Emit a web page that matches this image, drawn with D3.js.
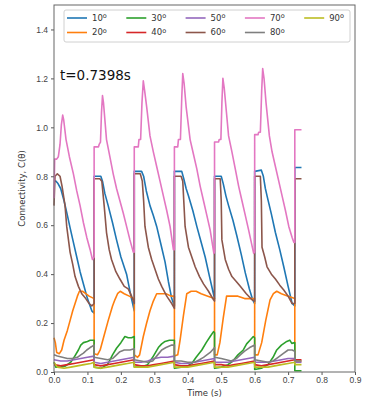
<!DOCTYPE html>
<html>
<head>
<meta charset="utf-8">
<script src="https://cdn.jsdelivr.net/npm/d3@7"></script>
<style>
  body { margin: 0; background: #fff; }
  svg { display: block; font-family: "DejaVu Sans", sans-serif; }
</style>
</head>
<body>
<svg id="chart" width="366" height="399"></svg>
<script>
// values, [time (s), connectivity]
const deg10 = [
    [0, 0.78], [0.006, 0.78], [0.012, 0.77], [0.02, 0.75], [0.03, 0.70], [0.04, 0.64], [0.048, 0.59], [0.058, 0.53], [0.068, 0.47], [0.078, 0.41], [0.088, 0.36], [0.1, 0.30], [0.113, 0.25], [0.12, 0.24],
    [0.12, 0.80], [0.14, 0.80], [0.145, 0.78], [0.152, 0.73], [0.162, 0.68], [0.175, 0.61], [0.187, 0.54], [0.2, 0.47], [0.217, 0.40], [0.23, 0.31], [0.24, 0.25],
    [0.24, 0.82], [0.262, 0.82], [0.268, 0.80], [0.276, 0.74], [0.287, 0.68], [0.297, 0.64], [0.307, 0.595], [0.32, 0.52], [0.332, 0.45], [0.342, 0.37], [0.352, 0.30], [0.36, 0.27],
    [0.36, 0.82], [0.382, 0.82], [0.388, 0.79], [0.395, 0.75], [0.402, 0.72], [0.415, 0.66], [0.427, 0.595], [0.44, 0.53], [0.452, 0.47], [0.465, 0.39], [0.475, 0.33], [0.48, 0.30],
    [0.48, 0.80], [0.5, 0.80], [0.506, 0.77], [0.514, 0.72], [0.522, 0.68], [0.535, 0.62], [0.547, 0.555], [0.56, 0.48], [0.572, 0.405], [0.584, 0.34], [0.594, 0.295], [0.6, 0.28],
    [0.6, 0.82], [0.62, 0.825], [0.626, 0.80], [0.632, 0.75], [0.637, 0.72], [0.65, 0.645], [0.662, 0.57], [0.675, 0.50], [0.687, 0.43], [0.7, 0.35], [0.712, 0.28], [0.72, 0.27],
    [0.72, 0.836], [0.74, 0.836]
];
const deg20 = [
    [0, 0.14], [0.004, 0.12], [0.008, 0.08], [0.016, 0.075], [0.023, 0.09], [0.03, 0.13], [0.04, 0.17], [0.048, 0.21], [0.056, 0.25], [0.063, 0.28], [0.07, 0.31], [0.076, 0.33], [0.085, 0.33], [0.095, 0.32], [0.105, 0.31], [0.12, 0.30],
    [0.12, 0.075], [0.13, 0.07], [0.138, 0.09], [0.15, 0.15], [0.162, 0.21], [0.175, 0.27], [0.182, 0.295], [0.19, 0.32], [0.198, 0.33], [0.21, 0.32], [0.225, 0.31], [0.24, 0.30],
    [0.24, 0.07], [0.25, 0.06], [0.256, 0.07], [0.267, 0.145], [0.277, 0.20], [0.287, 0.25], [0.297, 0.29], [0.307, 0.32], [0.32, 0.32], [0.335, 0.32], [0.35, 0.31], [0.36, 0.31],
    [0.36, 0.065], [0.37, 0.07], [0.377, 0.13], [0.387, 0.23], [0.397, 0.32], [0.41, 0.33], [0.425, 0.33], [0.44, 0.32], [0.46, 0.31], [0.48, 0.30],
    [0.48, 0.07], [0.488, 0.07], [0.496, 0.12], [0.506, 0.22], [0.516, 0.31], [0.53, 0.31], [0.55, 0.31], [0.57, 0.30], [0.59, 0.30], [0.6, 0.30],
    [0.6, 0.07], [0.61, 0.07], [0.621, 0.12], [0.633, 0.21], [0.646, 0.295], [0.656, 0.32], [0.666, 0.33], [0.68, 0.32], [0.7, 0.31], [0.72, 0.30],
    [0.72, 0.045], [0.74, 0.045]
];
const deg30 = [
    [0, 0.04], [0.005, 0.02], [0.02, 0.02], [0.035, 0.025], [0.05, 0.04], [0.06, 0.06], [0.073, 0.09], [0.08, 0.11], [0.088, 0.12], [0.1, 0.125], [0.108, 0.13], [0.12, 0.13],
    [0.12, 0.02], [0.14, 0.015], [0.16, 0.03], [0.175, 0.07], [0.187, 0.097], [0.2, 0.12], [0.212, 0.145], [0.222, 0.14], [0.232, 0.14], [0.24, 0.145],
    [0.24, 0.02], [0.26, 0.02], [0.28, 0.03], [0.295, 0.06], [0.312, 0.10], [0.322, 0.115], [0.332, 0.125], [0.345, 0.13], [0.352, 0.13], [0.36, 0.13],
    [0.36, 0.015], [0.38, 0.02], [0.4, 0.025], [0.412, 0.035], [0.425, 0.06], [0.442, 0.09], [0.455, 0.12], [0.467, 0.145], [0.477, 0.165], [0.48, 0.16],
    [0.48, 0.015], [0.5, 0.02], [0.52, 0.03], [0.535, 0.045], [0.55, 0.07], [0.566, 0.09], [0.576, 0.115], [0.586, 0.13], [0.596, 0.145], [0.6, 0.14],
    [0.6, 0.01], [0.62, 0.015], [0.64, 0.03], [0.655, 0.06], [0.666, 0.09], [0.68, 0.11], [0.696, 0.125], [0.705, 0.13], [0.711, 0.117], [0.72, 0.12],
    [0.72, 0.005], [0.74, 0.005]
];
const deg40 = [
    [0, 0.03], [0.02, 0.025], [0.04, 0.03], [0.06, 0.035], [0.08, 0.04], [0.1, 0.045], [0.12, 0.05],
    [0.12, 0.03], [0.14, 0.025], [0.16, 0.03], [0.18, 0.035], [0.2, 0.04], [0.22, 0.045], [0.24, 0.05],
    [0.24, 0.03], [0.26, 0.025], [0.28, 0.025], [0.3, 0.03], [0.32, 0.035], [0.34, 0.04], [0.36, 0.045],
    [0.36, 0.03], [0.38, 0.025], [0.4, 0.025], [0.42, 0.03], [0.44, 0.035], [0.46, 0.04], [0.48, 0.045],
    [0.48, 0.03], [0.5, 0.03], [0.52, 0.025], [0.54, 0.03], [0.56, 0.035], [0.58, 0.04], [0.6, 0.045],
    [0.6, 0.03], [0.62, 0.025], [0.64, 0.03], [0.66, 0.035], [0.68, 0.04], [0.7, 0.045], [0.72, 0.05],
    [0.72, 0.05], [0.74, 0.05]
];
const deg50 = [
    [0, 0.05], [0.02, 0.045], [0.04, 0.045], [0.06, 0.05], [0.08, 0.055], [0.1, 0.06], [0.12, 0.065],
    [0.12, 0.04], [0.14, 0.035], [0.16, 0.04], [0.18, 0.045], [0.2, 0.05], [0.22, 0.055], [0.24, 0.06],
    [0.24, 0.04], [0.26, 0.04], [0.28, 0.045], [0.3, 0.055], [0.32, 0.06], [0.34, 0.06], [0.36, 0.065],
    [0.36, 0.04], [0.38, 0.035], [0.4, 0.035], [0.42, 0.04], [0.44, 0.045], [0.46, 0.05], [0.48, 0.055],
    [0.48, 0.04], [0.5, 0.04], [0.52, 0.04], [0.54, 0.045], [0.56, 0.05], [0.58, 0.055], [0.6, 0.06],
    [0.6, 0.04], [0.62, 0.04], [0.64, 0.04], [0.66, 0.045], [0.68, 0.05], [0.7, 0.055], [0.72, 0.055],
    [0.72, 0.04], [0.74, 0.04]
];
const deg60 = [
    [0, 0.68], [0.003, 0.80], [0.01, 0.81], [0.018, 0.80], [0.024, 0.76], [0.033, 0.68], [0.038, 0.595], [0.048, 0.49], [0.056, 0.44], [0.063, 0.39], [0.073, 0.35], [0.083, 0.32], [0.095, 0.30], [0.105, 0.28], [0.113, 0.27], [0.12, 0.28],
    [0.12, 0.79], [0.137, 0.79], [0.143, 0.78], [0.15, 0.68], [0.157, 0.57], [0.165, 0.50], [0.172, 0.46], [0.185, 0.41], [0.197, 0.38], [0.21, 0.35], [0.222, 0.34], [0.232, 0.31], [0.24, 0.28],
    [0.24, 0.81], [0.258, 0.81], [0.264, 0.78], [0.268, 0.70], [0.272, 0.595], [0.282, 0.51], [0.292, 0.46], [0.302, 0.42], [0.312, 0.38], [0.322, 0.35], [0.337, 0.31], [0.352, 0.28], [0.36, 0.26],
    [0.36, 0.80], [0.38, 0.80], [0.385, 0.78], [0.388, 0.70], [0.392, 0.595], [0.402, 0.51], [0.412, 0.47], [0.422, 0.43], [0.435, 0.39], [0.447, 0.36], [0.462, 0.33], [0.477, 0.295], [0.48, 0.29],
    [0.48, 0.79], [0.497, 0.79], [0.5, 0.70], [0.502, 0.54], [0.512, 0.46], [0.522, 0.42], [0.532, 0.39], [0.545, 0.37], [0.557, 0.35], [0.575, 0.32], [0.592, 0.295], [0.6, 0.29],
    [0.6, 0.80], [0.617, 0.80], [0.62, 0.70], [0.622, 0.51], [0.63, 0.47], [0.637, 0.43], [0.65, 0.40], [0.662, 0.38], [0.675, 0.355], [0.687, 0.335], [0.7, 0.31], [0.712, 0.28], [0.72, 0.28],
    [0.72, 0.79], [0.74, 0.79]
];
const deg70 = [
    [0, 0.71], [0.002, 0.87], [0.008, 0.87], [0.013, 0.88], [0.018, 0.93], [0.022, 1.01], [0.026, 1.05], [0.029, 1.03], [0.036, 0.95], [0.046, 0.88], [0.058, 0.81], [0.068, 0.74], [0.078, 0.68], [0.088, 0.61], [0.098, 0.55], [0.108, 0.50], [0.115, 0.46], [0.12, 0.47],
    [0.12, 0.92], [0.133, 0.92], [0.135, 0.93], [0.139, 0.94], [0.142, 1.06], [0.145, 1.13], [0.148, 1.10], [0.157, 0.95], [0.167, 0.88], [0.177, 0.81], [0.187, 0.75], [0.197, 0.70], [0.207, 0.65], [0.217, 0.595], [0.227, 0.54], [0.237, 0.49], [0.24, 0.49],
    [0.24, 0.92], [0.252, 0.92], [0.254, 0.95], [0.259, 0.95], [0.263, 1.10], [0.267, 1.19], [0.271, 1.15], [0.277, 1.085], [0.287, 0.965], [0.297, 0.90], [0.307, 0.84], [0.317, 0.78], [0.327, 0.72], [0.337, 0.66], [0.347, 0.595], [0.357, 0.50], [0.36, 0.50],
    [0.36, 0.92], [0.37, 0.92], [0.372, 0.95], [0.378, 0.95], [0.382, 1.12], [0.385, 1.22], [0.389, 1.18], [0.395, 1.085], [0.407, 0.95], [0.417, 0.89], [0.427, 0.83], [0.437, 0.76], [0.447, 0.70], [0.457, 0.64], [0.467, 0.58], [0.478, 0.485], [0.48, 0.49],
    [0.48, 0.94], [0.492, 0.94], [0.494, 0.95], [0.499, 0.95], [0.502, 1.10], [0.505, 1.20], [0.509, 1.16], [0.514, 1.085], [0.522, 0.965], [0.532, 0.90], [0.542, 0.83], [0.552, 0.76], [0.562, 0.70], [0.572, 0.64], [0.582, 0.58], [0.597, 0.485], [0.6, 0.49],
    [0.6, 0.97], [0.61, 0.97], [0.612, 0.98], [0.617, 0.98], [0.621, 1.15], [0.624, 1.24], [0.628, 1.20], [0.634, 1.10], [0.644, 0.965], [0.652, 0.90], [0.662, 0.84], [0.672, 0.78], [0.682, 0.72], [0.692, 0.66], [0.702, 0.595], [0.712, 0.55], [0.717, 0.53], [0.72, 0.53],
    [0.72, 0.99], [0.74, 0.99]
];
const deg80 = [
    [0, 0.07], [0.01, 0.065], [0.025, 0.06], [0.04, 0.055], [0.055, 0.055], [0.07, 0.06], [0.08, 0.07], [0.088, 0.077], [0.098, 0.09], [0.108, 0.10], [0.12, 0.11],
    [0.12, 0.06], [0.14, 0.055], [0.16, 0.05], [0.175, 0.055], [0.187, 0.07], [0.197, 0.083], [0.21, 0.09], [0.227, 0.09], [0.24, 0.095],
    [0.24, 0.05], [0.26, 0.045], [0.28, 0.04], [0.295, 0.045], [0.31, 0.07], [0.322, 0.09], [0.335, 0.10], [0.352, 0.11], [0.36, 0.11],
    [0.36, 0.045], [0.38, 0.045], [0.4, 0.04], [0.42, 0.04], [0.435, 0.05], [0.447, 0.06], [0.457, 0.07], [0.467, 0.08], [0.477, 0.095], [0.48, 0.10],
    [0.48, 0.06], [0.5, 0.055], [0.515, 0.05], [0.53, 0.045], [0.545, 0.055], [0.557, 0.07], [0.57, 0.085], [0.585, 0.10], [0.6, 0.11],
    [0.6, 0.05], [0.62, 0.045], [0.64, 0.04], [0.655, 0.045], [0.67, 0.06], [0.685, 0.075], [0.7, 0.09], [0.712, 0.09], [0.72, 0.085],
    [0.72, 0.045], [0.74, 0.045]
];
const deg90 = [
    [0, 0.04], [0.01, 0.02], [0.03, 0.015], [0.05, 0.02], [0.07, 0.025], [0.09, 0.03], [0.11, 0.035], [0.12, 0.04],
    [0.12, 0.02], [0.14, 0.015], [0.16, 0.02], [0.18, 0.025], [0.2, 0.03], [0.22, 0.035], [0.24, 0.04],
    [0.24, 0.02], [0.26, 0.02], [0.28, 0.02], [0.3, 0.025], [0.32, 0.03], [0.34, 0.035], [0.36, 0.04],
    [0.36, 0.02], [0.38, 0.02], [0.4, 0.02], [0.42, 0.025], [0.44, 0.03], [0.46, 0.035], [0.48, 0.04],
    [0.48, 0.02], [0.5, 0.02], [0.52, 0.02], [0.54, 0.025], [0.56, 0.03], [0.58, 0.035], [0.6, 0.04],
    [0.6, 0.02], [0.62, 0.02], [0.64, 0.02], [0.66, 0.025], [0.68, 0.03], [0.7, 0.035], [0.72, 0.04],
    [0.72, 0.03], [0.74, 0.03]
];

const labels = ['10', '20', '30', '40', '50', '60', '70', '80', '90'];
const series = [deg10, deg20, deg30, deg40, deg50, deg60, deg70, deg80, deg90];
const colors = ['#1f77b4', '#ff7f0e', '#2ca02c', '#d62728', '#9467bd', '#8c564b', '#e377c2', '#7f7f7f', '#bcbd22'];
const xTicks = [0, 0.1, 0.2, 0.3, 0.4, 0.5, 0.6, 0.7, 0.8, 0.9];
const yTicks = [0, 0.2, 0.4, 0.6, 0.8, 1.0, 1.2, 1.4];
const timeLabel = 't=0.7398s';

const margin = { top: 5, right: 11, bottom: 27, left: 54 };
const width = 366 - margin.left - margin.right;
const height = 399 - margin.top - margin.bottom;

const svg = d3.select('#chart');
const g = svg.append('g').attr('transform', `translate(${margin.left},${margin.top})`);

const x = d3.scaleLinear().domain([0, 0.9]).range([0, width]);
const y = d3.scaleLinear().domain([0, 1.5]).range([height, 0]);

const line = d3.line()
    .x(d => x(d[0]))
    .y(d => y(d[1]));

g.append('g').selectAll('path')
    .data(series)
    .join('path')
    .attr('fill', 'none')
    .attr('stroke', (d, i) => colors[i])
    .attr('stroke-width', 1.6)
    .attr('stroke-linejoin', 'round')
    .attr('d', line);

// axes
const xAxis = g.append('g')
    .attr('transform', `translate(0,${height})`)
    .call(d3.axisBottom(x).tickValues(xTicks).tickFormat(d3.format('.1f')).tickSize(3).tickPadding(2));
const yAxis = g.append('g')
    .call(d3.axisLeft(y).tickValues(yTicks).tickFormat(d3.format('.1f')).tickSize(3).tickPadding(3));

[xAxis, yAxis].forEach(ax => {
    ax.select('.domain').remove();
    ax.selectAll('line').attr('stroke', '#555');
    ax.selectAll('text').attr('fill', '#444').style('font-size', '8.5px');
});

// frame
g.append('rect')
    .attr('width', width)
    .attr('height', height)
    .attr('fill', 'none')
    .attr('stroke', '#666')
    .attr('stroke-width', 1);

// legend
const legend = g.append('g').attr('transform', 'translate(10,5)');
legend.append('rect')
    .attr('width', 286)
    .attr('height', 32)
    .attr('rx', 2)
    .attr('fill', 'rgba(255,255,255,0.8)')
    .attr('stroke', '#d0d0d0');

const entry = legend.selectAll('g.entry')
    .data(labels)
    .join('g')
    .attr('class', 'entry')
    .attr('transform', (d, i) => `translate(${3 + Math.floor(i / 2) * 59.3},${i % 2 === 0 ? 8 : 22.5})`);

entry.append('line')
    .attr('x1', 0).attr('x2', 20)
    .attr('stroke', (d, i) => colors[i])
    .attr('stroke-width', 1.6);

const entryText = entry.append('text')
    .attr('x', 25)
    .attr('dy', '0.35em')
    .attr('fill', '#333')
    .style('font-size', '8.5px')
    .text(d => d);
entryText.append('tspan')
    .attr('dy', '-0.4em')
    .style('font-size', '6.5px')
    .text('o');

// time stamp
g.append('text')
    .attr('x', 6)
    .attr('y', 75)
    .attr('fill', '#111')
    .style('font-size', '13.5px')
    .text(timeLabel);

// axis labels
svg.append('text')
    .attr('x', margin.left + width / 2)
    .attr('y', 396)
    .attr('text-anchor', 'middle')
    .attr('fill', '#333')
    .style('font-size', '8.5px')
    .text('Time (s)');

svg.append('text')
    .attr('transform', `translate(25,${margin.top + height / 2}) rotate(-90)`)
    .attr('text-anchor', 'middle')
    .attr('fill', '#333')
    .style('font-size', '8.5px')
    .text('Connectivity, C(θ)');
</script>
</body>
</html>
